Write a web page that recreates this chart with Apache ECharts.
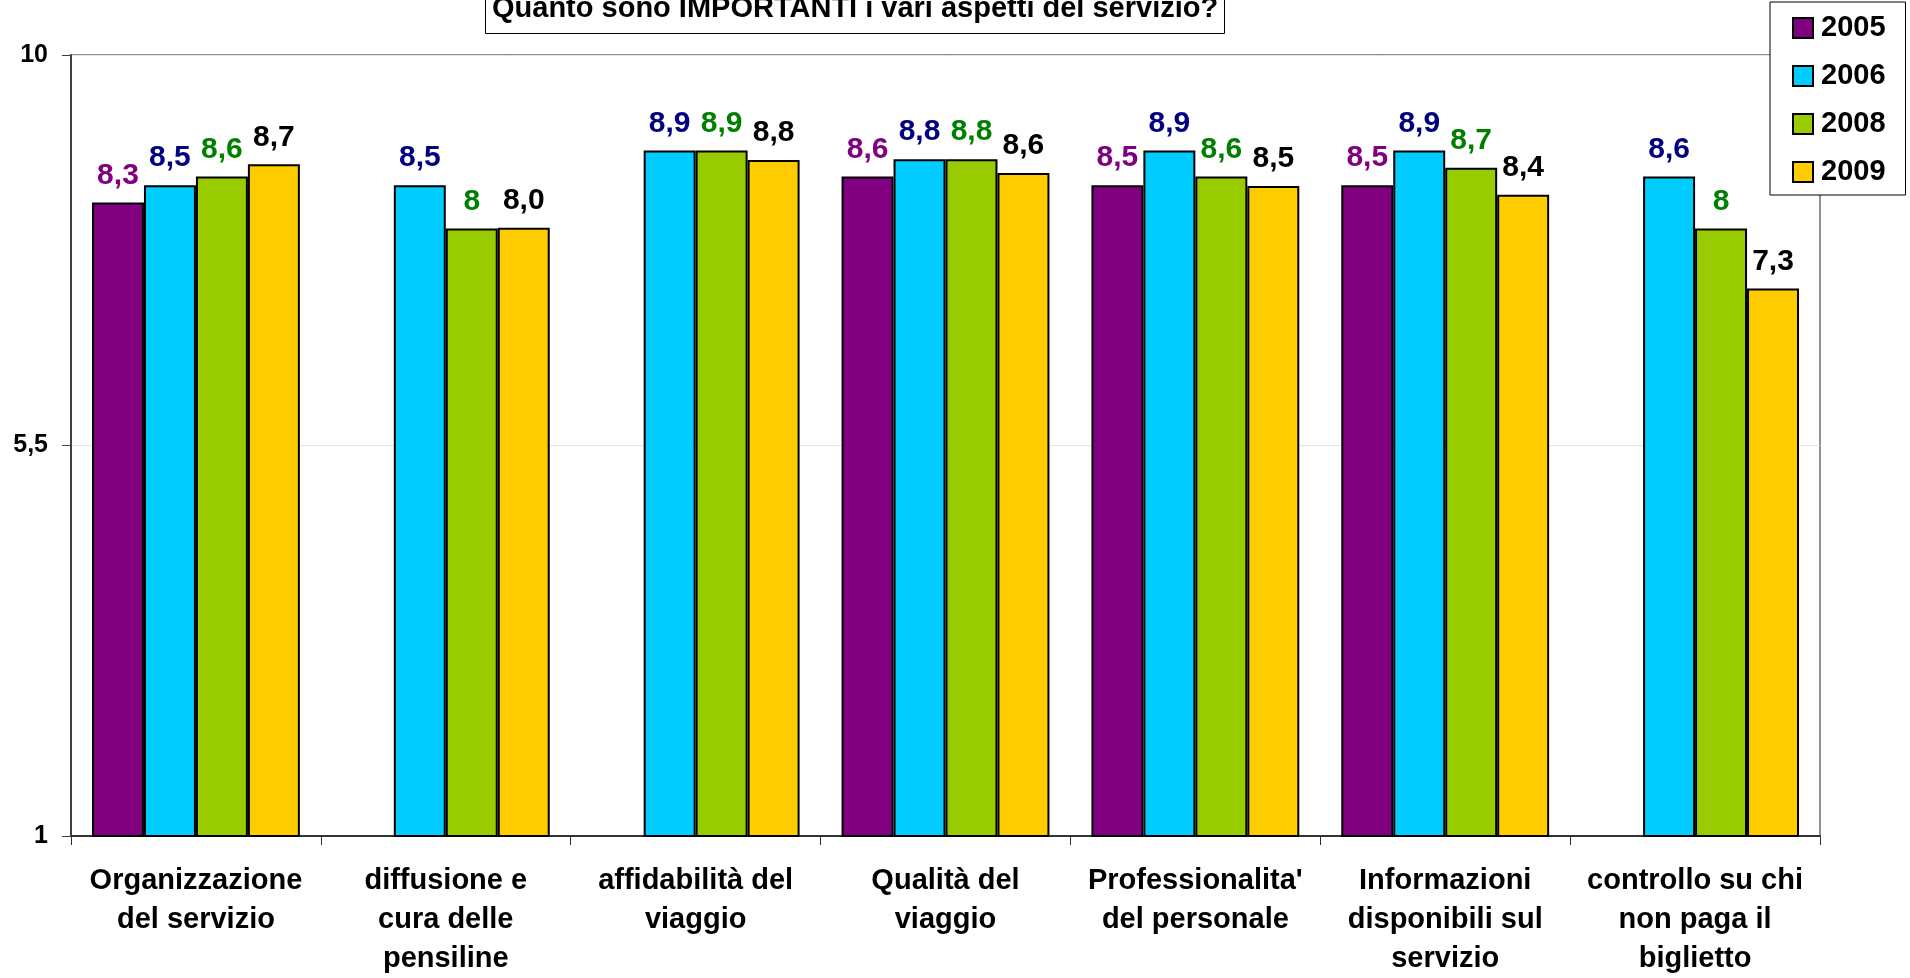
<!DOCTYPE html>
<html>
<head>
<meta charset="utf-8">
<script src="https://cdn.jsdelivr.net/npm/echarts@6/dist/echarts.min.js"></script>
<style>
html,body{margin:0;padding:0;background:#fff;}
#c{width:1910px;height:978px;}
</style>
</head>
<body>
<div id="c"></div>
<script>
const titleText = "Quanto sono IMPORTANTI i vari aspetti del servizio?";
const categories = [
  "Organizzazione\ndel servizio",
  "diffusione e\ncura delle\npensiline",
  "affidabilità del\nviaggio",
  "Qualità del\nviaggio",
  "Professionalita'\ndel personale",
  "Informazioni\ndisponibili sul\nservizio",
  "controllo su chi\nnon paga il\nbiglietto"
];
const seriesNames = ["2005", "2006", "2008", "2009"];
const values2005 = [8.3, null, null, 8.6, 8.5, 8.5, null];
const values2006 = [8.5, 8.5, 8.9, 8.8, 8.9, 8.9, 8.6];
const values2008 = [8.6, 8, 8.9, 8.8, 8.6, 8.7, 8];
const values2009 = [8.74, 8.01, 8.79, 8.64, 8.49, 8.39, 7.31];
const yTicks = [1, 5.5, 10];

const fillColors = ["#800080", "#00CCFF", "#99CC00", "#FFCC00"];
const labelColors = ["#800080", "#000080", "#008000", "#000000"];
const FONT = "'Liberation Sans', Arial, Helvetica, sans-serif";

function fmtGeneral(v) { return String(v).replace('.', ','); }
function fmtFixed(v) { return v.toFixed(1).replace('.', ','); }

const allValues = [values2005, values2006, values2008, values2009];
const series = allValues.map((vals, i) => ({
  name: seriesNames[i],
  type: 'bar',
  data: vals.map(v => v === null ? '-' : v),
  barGap: '0%',
  barCategoryGap: '16.8%',
  itemStyle: { color: fillColors[i], borderColor: '#000', borderWidth: 2 },
  label: {
    show: true,
    position: 'top',
    distance: 12,
    color: labelColors[i],
    fontFamily: FONT,
    fontWeight: 'bold',
    fontSize: 30,
    formatter: p => (i === 3 ? fmtFixed(p.value) : fmtGeneral(p.value))
  },
  emphasis: { disabled: true }
}));

const chart = echarts.init(document.getElementById('c'), null, { renderer: 'canvas' });
chart.setOption({
  animation: false,
  backgroundColor: '#fff',
  title: {
    text: titleText,
    left: 485,
    top: -10,
    padding: [4, 7, 10, 7],
    borderColor: '#000',
    borderWidth: 1,
    backgroundColor: '#fff',
    textStyle: { fontFamily: FONT, fontWeight: 'bold', fontSize: 29, lineHeight: 30, color: '#000' }
  },
  legend: {
    orient: 'vertical',
    left: 1770,
    top: 2,
    padding: [11, 20, 8, 22],
    itemGap: 18,
    itemWidth: 20,
    itemHeight: 20,
    icon: 'rect',
    borderColor: '#000',
    borderWidth: 1,
    backgroundColor: '#fff',
    itemStyle: { borderColor: '#000', borderWidth: 2 },
    textStyle: { fontFamily: FONT, fontWeight: 'bold', fontSize: 29, lineHeight: 30, color: '#000', padding: [0, 0, 0, 3] },
    data: seriesNames
  },
  grid: {
    left: 71, right: 90, top: 55, bottom: 140,
    show: true,
    borderColor: '#909090',
    borderWidth: 2,
    backgroundColor: 'transparent'
  },
  xAxis: {
    type: 'category',
    data: categories,
    axisLine: { lineStyle: { color: '#333', width: 2 } },
    axisTick: { show: true, length: 9, lineStyle: { color: '#333', width: 1 } },
    axisLabel: {
      interval: 0,
      margin: 25,
      fontFamily: FONT,
      fontWeight: 'bold',
      fontSize: 29,
      lineHeight: 39,
      color: '#000'
    }
  },
  yAxis: {
    type: 'value',
    min: yTicks[0],
    max: yTicks[2],
    interval: yTicks[1] - yTicks[0],
    axisLine: { show: true, lineStyle: { color: '#404040', width: 2 } },
    axisTick: { show: true, length: 9, lineStyle: { color: '#404040', width: 1 } },
    axisLabel: {
      margin: 23,
      fontFamily: FONT,
      fontWeight: 'bold',
      fontSize: 25,
      color: '#000',
      formatter: v => fmtGeneral(v)
    },
    splitLine: { show: true, lineStyle: { color: '#e4e4e4', width: 1 } }
  },
  series: series
});
</script>
</body>
</html>
